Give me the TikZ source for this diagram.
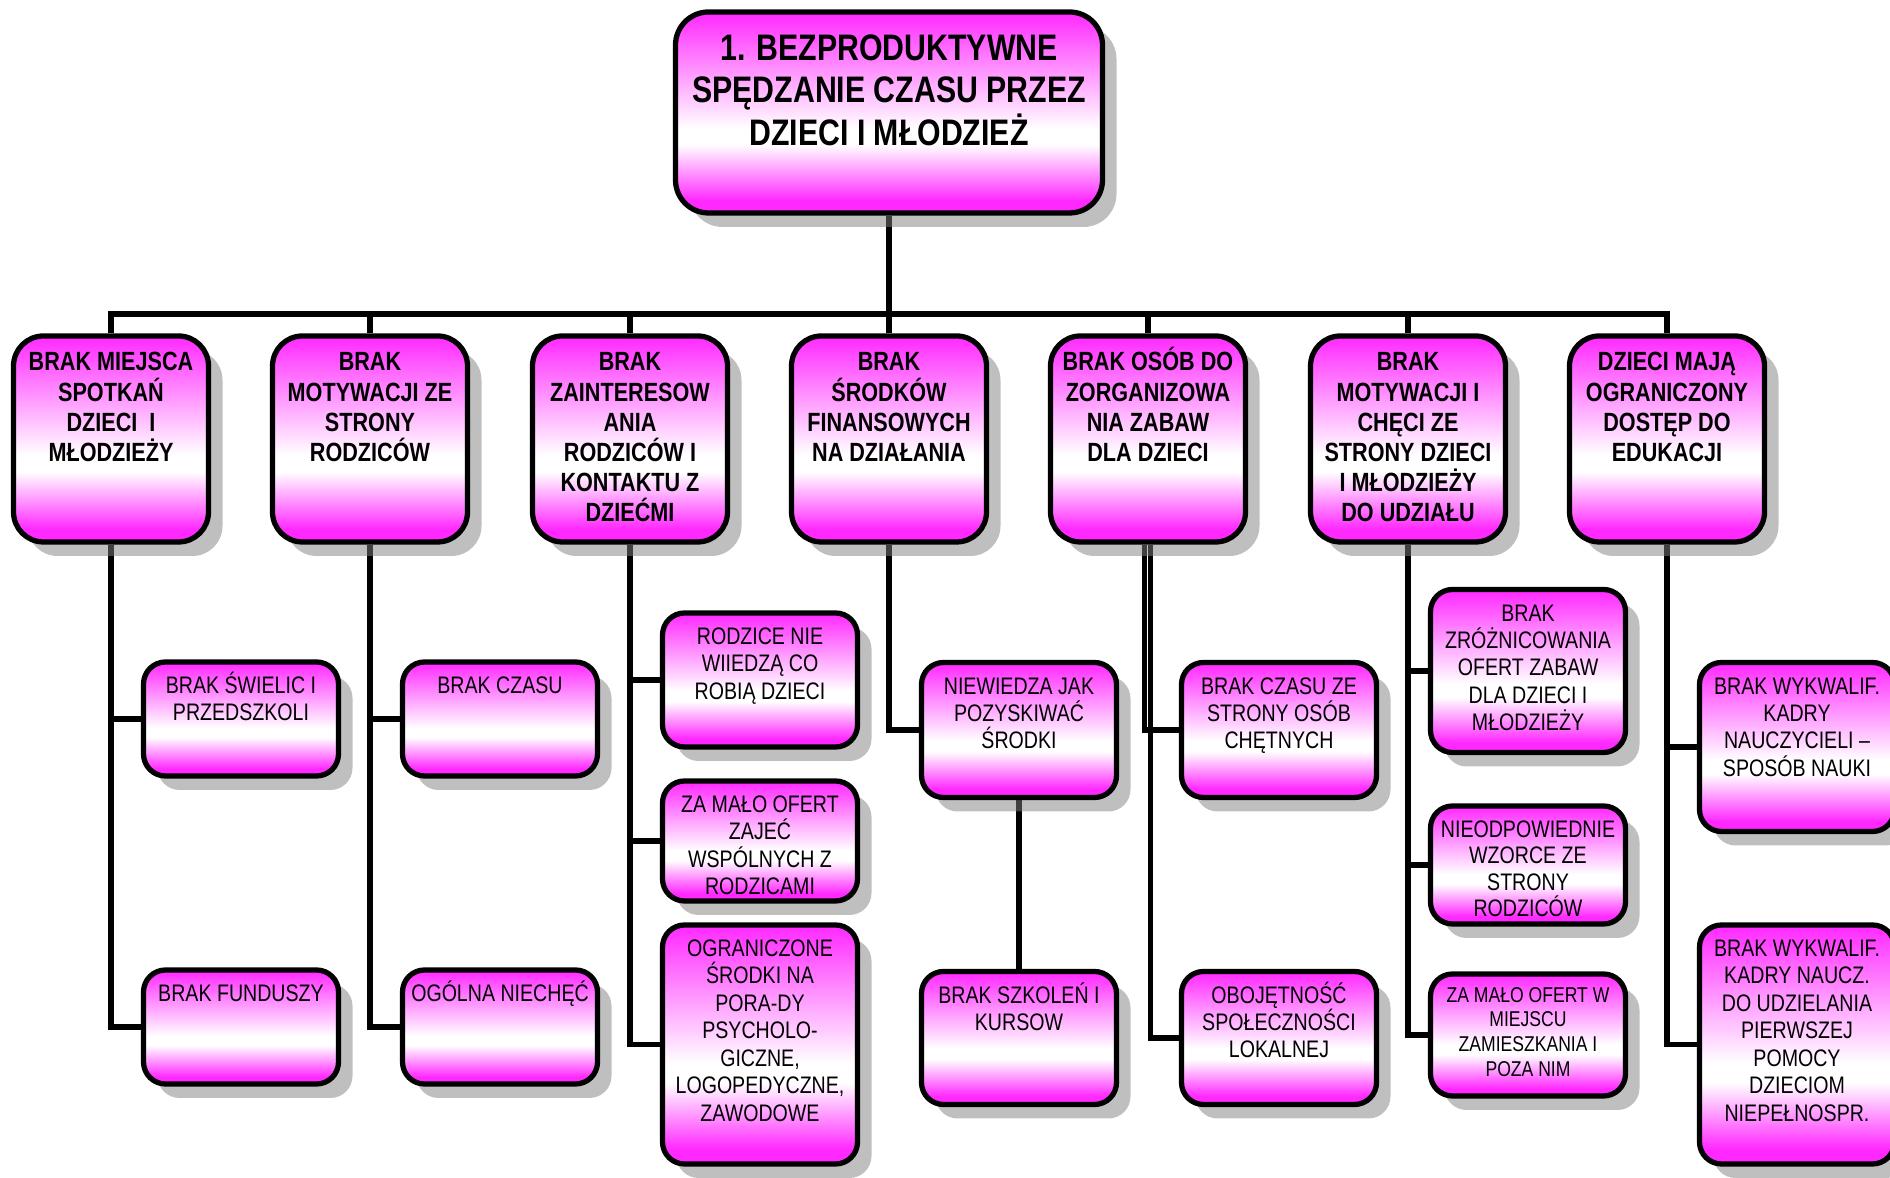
\documentclass[tikz,border=0pt]{standalone}
\usepackage{fontspec}
\setmainfont{Liberation Sans}[FakeStretch=0.82]
\usetikzlibrary{shadows,backgrounds}

\definecolor{boxpink}{RGB}{255,40,255}
% pink at top and bottom, white band a bit below the middle
\pgfdeclareverticalshading{boxshade}{100bp}{color(0bp)=(boxpink); color(28bp)=(boxpink); color(42bp)=(white); color(46bp)=(white); color(75bp)=(boxpink); color(100bp)=(boxpink)}

% fixed-size box contents, text hung from the top edge
\newcommand{\boxtext}[3]{\parbox[c][#2][t]{#1}{\centering\rule{0pt}{1.32em}#3}}

\tikzset{
  cause/.style={draw, line width=1.5pt, shading=boxshade, inner sep=0pt,
    drop shadow={shadow xshift=0.14cm, shadow yshift=-0.14cm}},
  rootbox/.style={cause, rounded corners=0.33cm, font=\fontsize{10.5}{12}\selectfont\bfseries},
  mainbox/.style={cause, rounded corners=0.3cm, font=\fontsize{7.5}{8.6}\selectfont\bfseries},
  subbox/.style={cause, rounded corners=0.22cm, font=\fontsize{6.8}{7.8}\selectfont},
  wire/.style={line width=1.7pt}
}

\begin{document}
\begin{tikzpicture}[x=1cm, y=1cm]
  \useasboundingbox (0,0) rectangle (18.90,11.78);

  % Main problem
  \node[rootbox] (root) at (8.89,10.655) {\boxtext{4.27cm}{2.01cm}{1. BEZPRODUKTYWNE\\SPĘDZANIE CZASU PRZEZ\\DZIECI I MŁODZIEŻ}};

  % Level-1 causes (pitch 2.593)
  \node[mainbox] (b1) at (1.11,7.39)  {\boxtext{1.95cm}{2.06cm}{BRAK MIEJSCA\\SPOTKAŃ\\DZIECI~~I\\MŁODZIEŻY}};
  \node[mainbox] (b2) at (3.70,7.39)  {\boxtext{1.95cm}{2.06cm}{BRAK\\MOTYWACJI ZE\\STRONY\\RODZICÓW}};
  \node[mainbox] (b3) at (6.30,7.39)  {\boxtext{1.95cm}{2.06cm}{BRAK\\ZAINTERESOW\\ANIA\\RODZICÓW I\\KONTAKTU Z\\DZIEĆMI}};
  \node[mainbox] (b4) at (8.89,7.39)  {\boxtext{1.95cm}{2.06cm}{BRAK\\ŚRODKÓW\\FINANSOWYCH\\NA DZIAŁANIA}};
  \node[mainbox] (b5) at (11.48,7.39) {\boxtext{1.95cm}{2.06cm}{BRAK OSÓB DO\\ZORGANIZOWA\\NIA ZABAW\\DLA DZIECI}};
  \node[mainbox] (b6) at (14.08,7.39) {\boxtext{1.95cm}{2.06cm}{BRAK\\MOTYWACJI I\\CHĘCI ZE\\STRONY DZIECI\\I MŁODZIEŻY\\DO UDZIAŁU}};
  \node[mainbox] (b7) at (16.67,7.39) {\boxtext{1.95cm}{2.06cm}{DZIECI MAJĄ\\OGRANICZONY\\DOSTĘP DO\\EDUKACJI}};

  % Sub-causes, column by column
  \node[subbox] (s11) at (2.41,4.59) {\boxtext{1.95cm}{1.14cm}{BRAK ŚWIELIC I\\PRZEDSZKOLI}};
  \node[subbox] (s12) at (2.41,1.51) {\boxtext{1.95cm}{1.14cm}{BRAK FUNDUSZY}};

  \node[subbox] (s21) at (5.00,4.59) {\boxtext{1.95cm}{1.14cm}{BRAK CZASU}};
  \node[subbox] (s22) at (5.00,1.51) {\boxtext{1.95cm}{1.14cm}{OGÓLNA NIECHĘĆ}};

  \node[subbox] (s31) at (7.60,4.98)  {\boxtext{1.95cm}{1.34cm}{RODZICE NIE\\WIIEDZĄ CO\\ROBIĄ DZIECI}};
  \node[subbox] (s32) at (7.60,3.37)  {\boxtext{1.95cm}{1.20cm}{ZA MAŁO OFERT\\ZAJEĆ\\WSPÓLNYCH Z\\RODZICAMI}};
  \node[subbox] (s33) at (7.60,1.335) {\boxtext{1.95cm}{2.39cm}{OGRANICZONE\\ŚRODKI NA\\PORA-DY\\PSYCHOLO-\\GICZNE,\\LOGOPEDYCZNE,\\ZAWODOWE}};

  \node[subbox] (s41) at (10.19,4.48) {\boxtext{1.95cm}{1.35cm}{NIEWIEDZA JAK\\POZYSKIWAĆ\\ŚRODKI}};
  \node[subbox] (s42) at (10.19,1.40) {\boxtext{1.95cm}{1.33cm}{BRAK SZKOLEŃ I\\KURSOW}};

  \node[subbox] (s51) at (12.79,4.48) {\boxtext{1.95cm}{1.35cm}{BRAK CZASU ZE\\STRONY OSÓB\\CHĘTNYCH}};
  \node[subbox] (s52) at (12.79,1.40) {\boxtext{1.95cm}{1.33cm}{OBOJĘTNOŚĆ\\SPOŁECZNOŚCI\\LOKALNEJ}};

  \node[subbox] (s61) at (15.28,5.07) {\boxtext{1.95cm}{1.63cm}{BRAK\\ZRÓŻNICOWANIA\\OFERT ZABAW\\DLA DZIECI I\\MŁODZIEŻY}};
  \node[subbox, font=\fontsize{6.8}{7.5}\selectfont] (s62) at (15.28,3.13) {\boxtext{1.95cm}{1.18cm}{NIEODPOWIEDNIE\\WZORCE ZE\\STRONY\\RODZICÓW}};
  \node[subbox, font=\fontsize{6.1}{7}\selectfont] (s63) at (15.28,1.43) {\boxtext{1.95cm}{1.22cm}{ZA MAŁO OFERT W\\MIEJSCU\\ZAMIESZKANIA I\\POZA NIM}};

  \node[subbox] (s71) at (17.97,4.31)  {\boxtext{1.95cm}{1.69cm}{BRAK WYKWALIF.\\KADRY\\NAUCZYCIELI –\\SPOSÓB NAUKI}};
  \node[subbox] (s72) at (17.97,1.335) {\boxtext{1.95cm}{2.39cm}{BRAK WYKWALIF.\\KADRY NAUCZ.\\DO UDZIELANIA\\PIERWSZEJ\\POMOCY\\DZIECIOM\\NIEPEŁNOSPR.}};

  % Connectors, kept behind the boxes and their shadows
  \begin{scope}[on background layer]
    % bus under the main problem
    \draw[wire] (root.south) -- ++(0,-0.98) -| (b1.north);
    \draw[wire] (root.south) -- ++(0,-0.98) -| (b2.north);
    \draw[wire] (root.south) -- ++(0,-0.98) -| (b3.north);
    \draw[wire] (root.south) -- (b4.north);
    \draw[wire] (root.south) -- ++(0,-0.98) -| (b5.north);
    \draw[wire] (root.south) -- ++(0,-0.98) -| (b6.north);
    \draw[wire] (root.south) -- ++(0,-0.98) -| (b7.north);

    % column spines
    \draw[wire] (b1.south) |- (s11.west);
    \draw[wire] (b1.south) |- (s12.west);
    \draw[wire] (b2.south) |- (s21.west);
    \draw[wire] (b2.south) |- (s22.west);
    \draw[wire] (b3.south) |- (s31.west);
    \draw[wire] (b3.south) |- (s32.west);
    \draw[wire] (b3.south) |- (s33.west);
    \draw[wire] (b4.south) |- (s41.west);
    \draw[wire] (s41.south) -- (s42.north);
    \draw[wire] ([xshift=-0.035cm]b5.south) |- (s51.west);
    \draw[wire] ([xshift=0.025cm]b5.south) |- (s52.west);
    \draw[wire] (b6.south) |- (s61.west);
    \draw[wire] (b6.south) |- (s62.west);
    \draw[wire] (b6.south) |- (s63.west);
    \draw[wire] (b7.south) |- (s71.west);
    \draw[wire] (b7.south) |- (s72.west);
  \end{scope}
\end{tikzpicture}
\end{document}
